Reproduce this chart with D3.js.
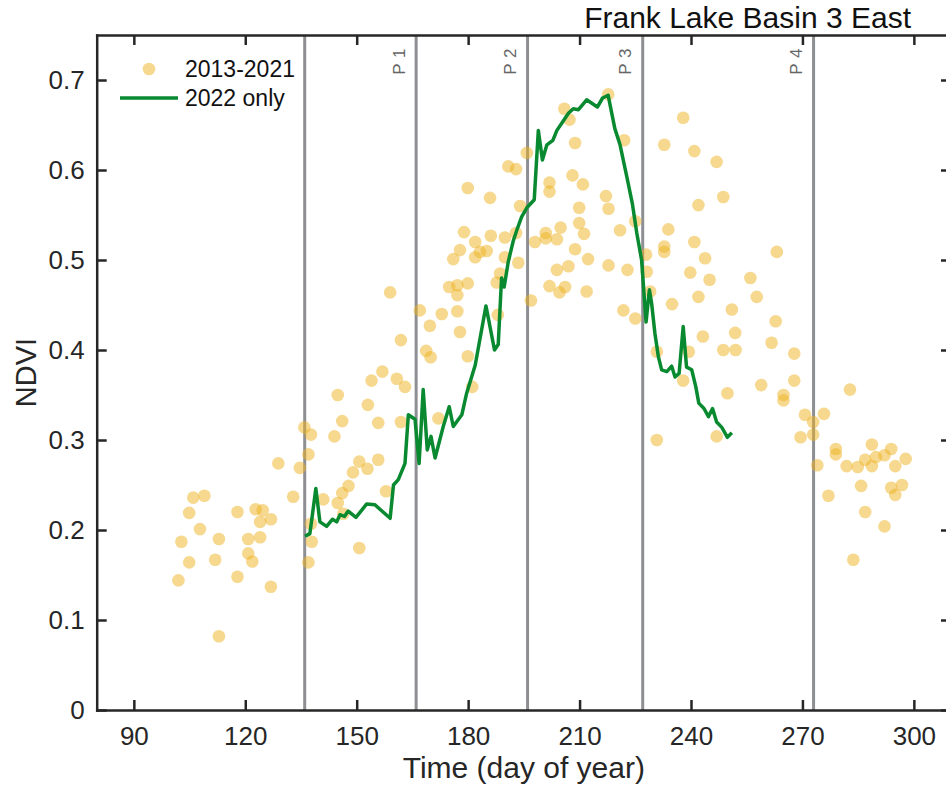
<!DOCTYPE html>
<html>
<head>
<meta charset="utf-8">
<script src="https://cdn.jsdelivr.net/npm/d3@7"></script>
<style>
  body { margin: 0; background: #fff; }
  svg { display: block; font-family: 'Liberation Sans', Arial, sans-serif; }
  .axis path, .axis line { stroke: #262626; stroke-width: 2.5; }
  .axis text { fill: #262626; font-size: 26px; }
</style>
</head>
<body>
<div id="chart"></div>
<script>
// NDVI observations 2013-2021 [day of year, NDVI]
const histPoints = [
  [102.0,0.144],[104.9,0.164],[102.8,0.187],[107.8,0.201],[104.9,0.219],[106.0,0.236],
  [109.0,0.238],[112.9,0.190],[111.9,0.167],[117.9,0.148],[112.9,0.082],[117.9,0.220],
  [120.8,0.190],[120.8,0.174],[121.9,0.165],[122.8,0.223],[124.7,0.222],[124.0,0.209],
  [126.9,0.212],[124.0,0.192],[126.9,0.137],[128.9,0.274],[132.9,0.237],[134.7,0.269],
  [135.9,0.314],[137.7,0.306],[137.0,0.284],[137.7,0.207],[137.9,0.187],[137.0,0.164],
  [141.0,0.234],[144.9,0.350],[144.0,0.304],[146.1,0.321],[149.0,0.264],[150.7,0.276],
  [147.8,0.249],[146.1,0.241],[144.9,0.230],[146.4,0.218],[150.7,0.180],[153.0,0.339],
  [152.9,0.268],[155.8,0.319],[155.8,0.278],[154.0,0.366],[156.9,0.376],[157.9,0.243],
  [159.0,0.464],[160.8,0.368],[163.0,0.359],[161.9,0.411],[161.9,0.320],[167.0,0.444],
  [169.7,0.427],[168.7,0.399],[169.9,0.392],[172.0,0.324],[172.9,0.440],[174.9,0.470],
  [177.1,0.472],[177.1,0.461],[177.1,0.443],[177.8,0.420],[176.0,0.501],[177.8,0.511],
  [178.9,0.531],[179.9,0.580],[179.9,0.474],[179.9,0.393],[181.1,0.359],[181.9,0.520],
  [181.9,0.503],[183.2,0.509],[185.0,0.510],[186.1,0.527],[185.9,0.569],[187.7,0.475],
  [188.0,0.439],[188.6,0.485],[189.9,0.525],[189.9,0.503],[190.8,0.604],[192.9,0.601],
  [192.9,0.530],[193.5,0.497],[194.0,0.560],[195.8,0.619],[196.9,0.455],[198.0,0.520],
  [200.9,0.530],[200.9,0.524],[203.9,0.523],[204.9,0.536],[201.9,0.586],[201.9,0.576],
  [203.9,0.489],[207.0,0.493],[201.9,0.471],[204.6,0.464],[206.1,0.470],[208.8,0.512],
  [209.9,0.541],[209.9,0.558],[208.1,0.594],[210.9,0.584],[208.8,0.630],[205.9,0.668],
  [207.3,0.656],[211.2,0.529],[212.3,0.501],[211.9,0.465],[217.1,0.571],[217.8,0.557],
  [217.8,0.494],[217.7,0.684],[220.9,0.533],[222.0,0.633],[222.9,0.489],[221.8,0.444],
  [225.0,0.543],[225.0,0.435],[227.9,0.506],[228.1,0.487],[229.0,0.465],[232.8,0.628],
  [233.9,0.534],[232.8,0.515],[232.8,0.509],[237.9,0.658],[240.9,0.621],[242.0,0.561],
  [240.9,0.520],[243.8,0.502],[239.8,0.486],[245.0,0.478],[242.0,0.459],[234.9,0.451],
  [246.9,0.609],[248.7,0.570],[251.0,0.445],[251.9,0.419],[243.2,0.415],[257.7,0.459],
  [262.8,0.432],[261.7,0.408],[267.8,0.396],[248.7,0.400],[252.0,0.400],[230.8,0.398],
  [239.4,0.398],[237.9,0.366],[249.8,0.352],[258.9,0.361],[267.8,0.366],[264.9,0.350],
  [264.9,0.344],[269.5,0.303],[230.8,0.300],[246.9,0.304],[263.1,0.509],[256.0,0.480],
  [282.8,0.356],[270.7,0.328],[272.9,0.320],[275.8,0.329],[272.9,0.306],[274.0,0.272],
  [277.0,0.238],[279.0,0.290],[279.0,0.284],[281.9,0.271],[284.9,0.270],[286.9,0.278],
  [288.7,0.295],[288.7,0.271],[289.8,0.281],[292.1,0.283],[293.9,0.290],[295.0,0.271],
  [297.8,0.279],[285.8,0.249],[293.9,0.247],[296.8,0.250],[295.0,0.239],[286.9,0.220],
  [292.1,0.204],[283.7,0.167]
];

// NDVI 2022 [day of year, NDVI]
const line2022 = [
  [136.1,0.193],[137.4,0.196],[139.0,0.246],[140.1,0.209],[141.9,0.204],[143.5,0.212],
  [144.6,0.209],[145.5,0.217],[146.7,0.215],[147.7,0.221],[149.8,0.214],[152.7,0.229],
  [154.9,0.228],[159.0,0.213],[159.9,0.250],[161.2,0.256],[163.0,0.274],[163.9,0.328],
  [165.7,0.323],[166.8,0.274],[167.9,0.356],[169.0,0.289],[170.0,0.304],[171.1,0.280],
  [173.3,0.315],[174.9,0.337],[176.0,0.315],[178.3,0.328],[179.6,0.352],[181.9,0.383],
  [184.8,0.449],[187.1,0.400],[188.1,0.406],[189.0,0.480],[189.7,0.470],[190.8,0.498],
  [192.2,0.522],[193.1,0.533],[194.4,0.548],[195.8,0.558],[197.8,0.567],[198.9,0.644],
  [200.0,0.611],[201.2,0.628],[202.8,0.633],[203.9,0.644],[205.2,0.652],[207.0,0.663],
  [208.3,0.668],[209.7,0.667],[211.9,0.678],[214.8,0.670],[216.2,0.680],[217.7,0.683],
  [219.5,0.646],[220.9,0.628],[222.7,0.593],[224.2,0.563],[225.4,0.530],[226.7,0.500],
  [227.9,0.431],[228.8,0.467],[229.4,0.452],[230.3,0.418],[231.2,0.393],[232.1,0.378],
  [233.5,0.376],[234.8,0.382],[235.7,0.370],[236.8,0.374],[237.9,0.426],[238.8,0.381],
  [240.2,0.378],[241.3,0.359],[242.1,0.341],[243.5,0.335],[244.7,0.326],[245.8,0.335],
  [246.9,0.320],[248.3,0.314],[249.8,0.303],[251.0,0.308]
];

// period boundaries
const phaseDays = [136, 166, 196, 227, 273];
const phaseLabels = ['', 'P 1', 'P 2', 'P 3', 'P 4'];

const xTicks = [90, 120, 150, 180, 210, 240, 270, 300];
const yTicks = [0, 0.1, 0.2, 0.3, 0.4, 0.5, 0.6, 0.7];

const width = 946, height = 790;
const margin = {top: 35, left: 96.7};
const plotW = 854.3, plotH = 675;

const x = d3.scaleLinear().domain([80, 310]).range([0, plotW]);
const y = d3.scaleLinear().domain([0, 0.75]).range([plotH, 0]);

const svg = d3.select('#chart').append('svg')
  .attr('width', width)
  .attr('height', height);

const chart = svg.append('g')
  .attr('transform', 'translate(' + margin.left + ',' + margin.top + ')');

// phase lines
chart.selectAll('.phase')
  .data(phaseDays)
  .enter()
  .append('line')
  .attr('class', 'phase')
  .attr('x1', d => x(d)).attr('x2', d => x(d))
  .attr('y1', 0).attr('y2', plotH)
  .attr('stroke', '#8e8f93')
  .attr('stroke-width', 3);

chart.selectAll('.phase-label')
  .data(phaseDays.map((d, i) => ({day: d, label: phaseLabels[i]})).filter(d => d.label))
  .enter()
  .append('text')
  .attr('class', 'phase-label')
  .attr('transform', d => 'translate(' + (x(d.day) - 11.5) + ',13) rotate(-90)')
  .attr('text-anchor', 'end')
  .attr('fill', '#666')
  .style('font-size', '17px')
  .style('letter-spacing', '0.5px')
  .text(d => d.label);

// 2013-2021 dots
chart.selectAll('.dot')
  .data(histPoints)
  .enter()
  .append('circle')
  .attr('class', 'dot')
  .attr('cx', d => x(d[0]))
  .attr('cy', d => y(d[1]))
  .attr('r', 6.3)
  .attr('fill', '#EDB120')
  .attr('fill-opacity', 0.5);

// 2022 line
const line = d3.line()
  .x(d => x(d[0]))
  .y(d => y(d[1]));

chart.append('path')
  .datum(line2022)
  .attr('fill', 'none')
  .attr('stroke', '#0a8a30')
  .attr('stroke-width', 3.5)
  .attr('stroke-linejoin', 'round')
  .attr('d', line);

// axes (ticks point inward, box on all sides)
chart.append('g')
  .attr('class', 'x axis')
  .attr('transform', 'translate(0,' + plotH + ')')
  .call(d3.axisBottom(x).tickValues(xTicks).tickSizeInner(-10).tickSizeOuter(0).tickPadding(17));

chart.append('g')
  .attr('class', 'y axis')
  .call(d3.axisLeft(y).tickValues(yTicks).tickSizeInner(-10).tickSizeOuter(0).tickPadding(12)
    .tickFormat(d => d === 0 ? '0' : d3.format('.1f')(d)));

chart.append('g')
  .attr('class', 'axis')
  .call(d3.axisTop(x).tickValues(xTicks).tickSizeInner(-10).tickSizeOuter(0).tickFormat(''));

chart.append('g')
  .attr('class', 'axis')
  .attr('transform', 'translate(' + plotW + ',0)')
  .call(d3.axisRight(y).tickValues(yTicks).tickSizeInner(-10).tickSizeOuter(0).tickFormat(''));

chart.selectAll('.axis .domain').attr('stroke-linecap', 'square');

// axis labels and title
svg.append('text')
  .attr('x', margin.left + plotW / 2)
  .attr('y', 778)
  .attr('text-anchor', 'middle')
  .attr('fill', '#262626')
  .style('font-size', '30px')
  .text('Time (day of year)');

svg.append('text')
  .attr('transform', 'translate(36,' + (margin.top + plotH / 2) + ') rotate(-90)')
  .attr('text-anchor', 'middle')
  .attr('fill', '#262626')
  .style('font-size', '29px')
  .text('NDVI');

svg.append('text')
  .attr('x', 911)
  .attr('y', 28)
  .attr('text-anchor', 'end')
  .attr('fill', '#111')
  .style('font-size', '30px')
  .text('Frank Lake Basin 3 East');

// legend
const legend = svg.append('g');
legend.append('circle')
  .attr('cx', 149).attr('cy', 69).attr('r', 6.3)
  .attr('fill', '#EDB120').attr('fill-opacity', 0.5);
legend.append('text')
  .attr('x', 185).attr('y', 77)
  .attr('fill', '#111')
  .style('font-size', '23px')
  .text('2013-2021');
legend.append('line')
  .attr('x1', 120).attr('x2', 178).attr('y1', 98).attr('y2', 98)
  .attr('stroke', '#0a8a30').attr('stroke-width', 3.5);
legend.append('text')
  .attr('x', 185).attr('y', 106)
  .attr('fill', '#111')
  .style('font-size', '23px')
  .text('2022 only');
</script>
</body>
</html>
